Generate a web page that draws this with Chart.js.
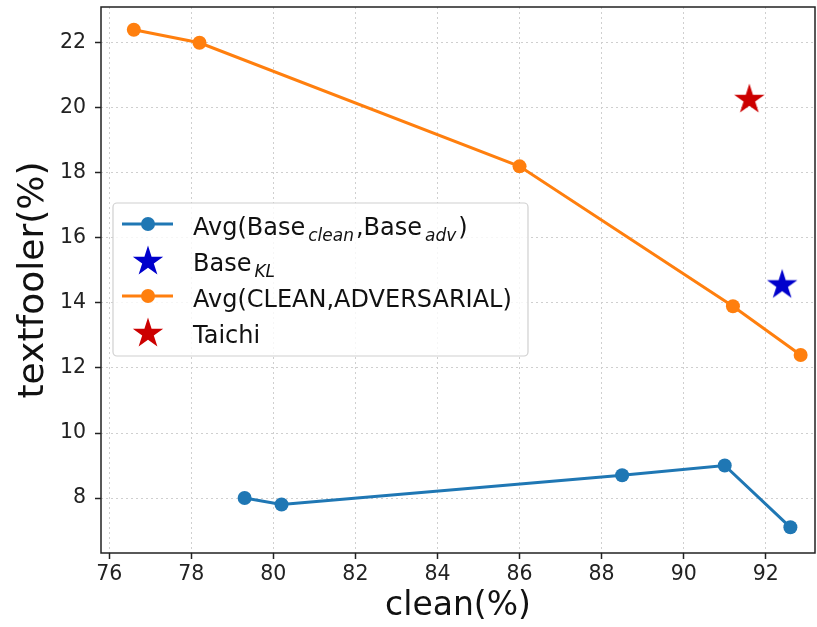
<!DOCTYPE html>
<html>
<head>
<meta charset="utf-8">
<script src="https://cdn.jsdelivr.net/npm/chart.js@4/dist/chart.umd.min.js"></script>
<style>
  html, body { margin: 0; padding: 0; background: #fff; }
  #chart { display: block; }
</style>
</head>
<body>
<canvas id="chart" width="817" height="627"></canvas>
<script>
// --- DATA ---
const xTicks = [76, 78, 80, 82, 84, 86, 88, 90, 92];
const yTicks = [8, 10, 12, 14, 16, 18, 20, 22];

// Avg(Base_clean, Base_adv)
const baseClean = [79.3, 80.2, 88.5, 91.0, 92.6];
const baseFooler = [8.0, 7.8, 8.7, 9.0, 7.1];

// Avg(CLEAN, ADVERSARIAL)
const avgClean = [76.6, 78.2, 86.0, 91.2, 92.85];
const avgFooler = [22.4, 22.0, 18.2, 13.9, 12.4];

// single points
const baseKLClean = [92.4];
const baseKLFooler = [14.6];
const taichiClean = [91.6];
const taichiFooler = [20.3];

const BLUE = '#1f77b4';
const ORANGE = '#ff7f0e';
const STAR_BLUE = '#0000cc';
const STAR_RED = '#cc0000';
const FONT = "'DejaVu Sans', sans-serif";

const toPoints = (xs, ys) => xs.map((x, i) => ({ x: x, y: ys[i] }));

// filled 5-point star, used as pointStyle image
const makeStar = (color, r) => {
    const size = Math.ceil(r * 2 + 4);
    const c = document.createElement('canvas');
    c.width = size; c.height = size;
    const g = c.getContext('2d');
    starPath(g, size / 2, size / 2 + r * 0.1, r);
    g.fillStyle = color;
    g.fill();
    return c;
};
function starPath(g, cx, cy, r) {
    const inner = r * 0.382;
    g.beginPath();
    for (let i = 0; i < 10; i++) {
        const rad = i % 2 === 0 ? r : inner;
        const a = -Math.PI / 2 + i * Math.PI / 5;
        const px = cx + rad * Math.cos(a);
        const py = cy + rad * Math.sin(a);
        if (i === 0) g.moveTo(px, py); else g.lineTo(px, py);
    }
    g.closePath();
}

const blueStar = makeStar(STAR_BLUE, 16);
const redStar = makeStar(STAR_RED, 16);

// --- PLUGINS: full frame + legend with subscripts ---
const framePlugin = {
    id: 'frame',
    afterDraw: (chart) => {
        const { ctx, chartArea: a } = chart;
        ctx.save();
        ctx.strokeStyle = '#222';
        ctx.lineWidth = 1.5;
        ctx.strokeRect(a.left, a.top, a.right - a.left, a.bottom - a.top);
        ctx.restore();
    }
};

const legendPlugin = {
    id: 'mplLegend',
    afterDatasetsDraw: (chart) => {
        const ctx = chart.ctx;
        const box = { x: 113, y: 203, w: 415, h: 153 };
        ctx.save();
        ctx.beginPath();
        ctx.roundRect(box.x, box.y, box.w, box.h, 4);
        ctx.fillStyle = 'rgba(255,255,255,0.8)';
        ctx.fill();
        ctx.strokeStyle = '#d0d0d0';
        ctx.lineWidth = 1.2;
        ctx.stroke();

        const handleX = 148, textX = 193;
        const rows = [
            { base: 235, kind: 'line', color: BLUE, parts: [['Avg(Base', 0], ['clean', 1], [',Base', 0], ['adv', 1], [')', 0]] },
            { base: 271, kind: 'star', img: blueStar, parts: [['Base', 0], ['KL', 1]] },
            { base: 307, kind: 'line', color: ORANGE, parts: [['Avg(CLEAN,ADVERSARIAL)', 0]] },
            { base: 343, kind: 'star', img: redStar, parts: [['Taichi', 0]] }
        ];
        rows.forEach(r => {
            const cy = r.base - 11;
            if (r.kind === 'line') {
                ctx.strokeStyle = r.color;
                ctx.lineWidth = 3;
                ctx.beginPath();
                ctx.moveTo(122, cy); ctx.lineTo(173, cy);
                ctx.stroke();
                ctx.fillStyle = r.color;
                ctx.beginPath();
                ctx.arc(handleX, cy, 7, 0, Math.PI * 2);
                ctx.fill();
            } else {
                ctx.drawImage(r.img, handleX - r.img.width / 2, cy - r.img.height / 2);
            }
            let x = textX;
            ctx.fillStyle = '#111';
            ctx.textBaseline = 'alphabetic';
            r.parts.forEach(([txt, sub]) => {
                if (sub) {
                    x += 3;
                    ctx.font = `italic 17px ${FONT}`;
                    ctx.fillText(txt, x, r.base + 6);
                } else {
                    ctx.font = `24px ${FONT}`;
                    ctx.fillText(txt, x, r.base);
                }
                x += ctx.measureText(txt).width;
                if (sub) x += 2;
            });
        });
        ctx.restore();
    }
};

new Chart(document.getElementById('chart'), {
    type: 'scatter',
    data: {
        datasets: [
            {
                label: 'Avg(Base_clean,Base_adv)',
                data: toPoints(baseClean, baseFooler),
                showLine: true,
                borderColor: BLUE,
                backgroundColor: BLUE,
                borderWidth: 3,
                pointRadius: 7,
                pointBorderWidth: 0
            },
            {
                label: 'Base_KL',
                data: toPoints(baseKLClean, baseKLFooler),
                pointStyle: blueStar,
                pointRadius: 15
            },
            {
                label: 'Avg(CLEAN,ADVERSARIAL)',
                data: toPoints(avgClean, avgFooler),
                showLine: true,
                borderColor: ORANGE,
                backgroundColor: ORANGE,
                borderWidth: 3,
                pointRadius: 7,
                pointBorderWidth: 0
            },
            {
                label: 'Taichi',
                data: toPoints(taichiClean, taichiFooler),
                pointStyle: redStar,
                pointRadius: 15
            }
        ]
    },
    options: {
        responsive: false,
        animation: false,
        layout: { autoPadding: false, padding: { top: 7, right: 2, left: 0, bottom: 0 } },
        plugins: {
            legend: { display: false },
            tooltip: { enabled: false }
        },
        scales: {
            x: {
                type: 'linear',
                min: 75.8,
                max: 93.2,
                afterBuildTicks: s => { s.ticks = xTicks.map(v => ({ value: v })); },
                afterFit: s => { s.height = 74; s.paddingLeft = 0; s.paddingRight = 0; },
                ticks: { color: '#222', font: { family: FONT, size: 20.5 }, padding: 3 },
                grid: { color: '#cfcfcf', lineWidth: 1, tickLength: 6, tickColor: '#222', tickWidth: 1.5 },
                border: { display: false, dash: [2, 3] },
                title: { display: true, text: 'clean(%)', color: '#111', font: { family: FONT, size: 33 }, padding: { top: 0, bottom: 1 } }
            },
            y: {
                type: 'linear',
                min: 6.31,
                max: 23.1,
                afterBuildTicks: s => { s.ticks = yTicks.map(v => ({ value: v })); },
                afterFit: s => { s.width = 101; s.paddingTop = 0; s.paddingBottom = 0; },
                ticks: { color: '#222', font: { family: FONT, size: 20.5 }, padding: 9 },
                grid: { color: '#cfcfcf', lineWidth: 1, tickLength: 6, tickColor: '#222', tickWidth: 1.5 },
                border: { display: false, dash: [2, 3] },
                title: { display: true, text: 'textfooler(%)', color: '#111', font: { family: FONT, size: 36 }, padding: { top: 12, bottom: 0 } }
            }
        }
    },
    plugins: [framePlugin, legendPlugin]
});
</script>
</body>
</html>
